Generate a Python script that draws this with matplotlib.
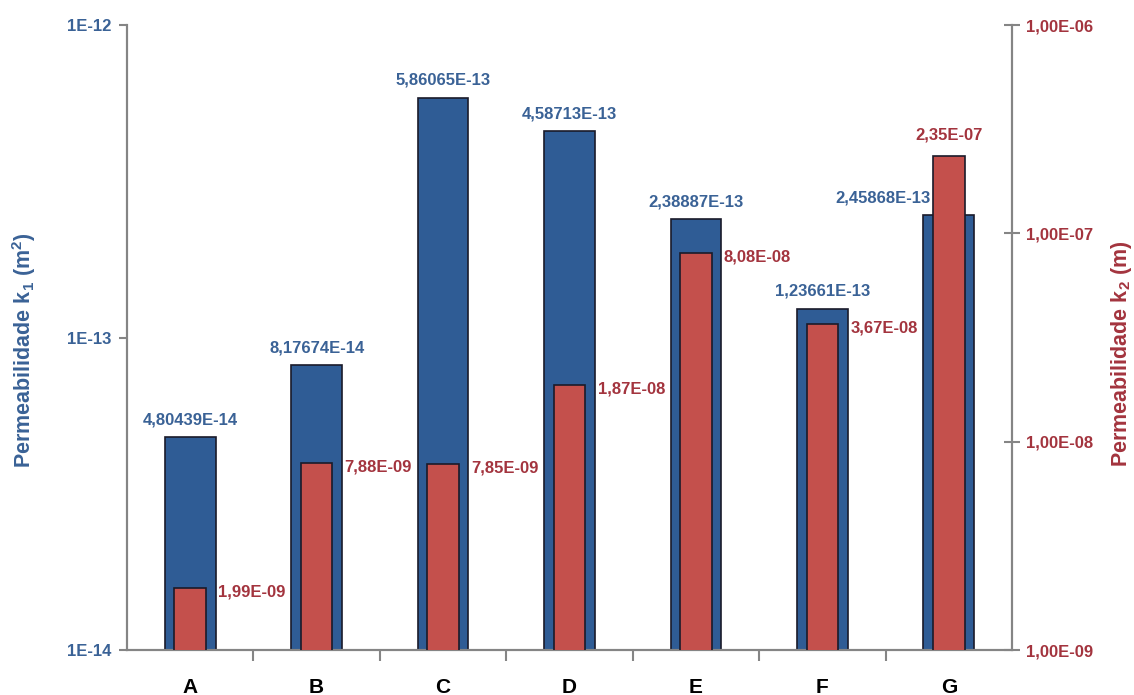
import matplotlib
matplotlib.use("Agg")
import matplotlib.pyplot as plt
import numpy as np

plt.rcParams['font.family'] = ['Liberation Sans', 'DejaVu Sans']
plt.rcParams['mathtext.fontset'] = 'custom'
plt.rcParams['mathtext.rm'] = 'Liberation Sans'
plt.rcParams['mathtext.bf'] = 'Liberation Sans:bold'

samples = ["A", "B", "C", "D", "E", "F", "G"]
k1_values = [4.80439e-14, 8.17674e-14, 5.86065e-13, 4.58713e-13, 2.38887e-13, 1.23661e-13, 2.45868e-13]
k1_labels = ["4,80439E-14", "8,17674E-14", "5,86065E-13", "4,58713E-13", "2,38887E-13", "1,23661E-13", "2,45868E-13"]
k2_values = [1.99e-09, 7.88e-09, 7.85e-09, 1.87e-08, 8.08e-08, 3.67e-08, 2.35e-07]
k2_labels = ["1,99E-09", "7,88E-09", "7,85E-09", "1,87E-08", "8,08E-08", "3,67E-08", "2,35E-07"]
k1_ticks = [1e-14, 1e-13, 1e-12]
k1_ticklabels = ["1E-14", "1E-13", "1E-12"]
k2_ticks = [1e-9, 1e-8, 1e-7, 1e-6]
k2_ticklabels = ["1,00E-09", "1,00E-08", "1,00E-07", "1,00E-06"]

blue = "#2F5C95"
red = "#C4504C"
blue_txt = "#3A6296"
red_txt = "#A3343E"
edge = "#1a1a2a"
axis_grey = "#858585"

fig = plt.figure(figsize=(11.34, 6.95), dpi=100)
ax1 = fig.add_axes([0.112, 0.0647, 0.7804, 0.8993])
ax2 = ax1.twinx()

x = np.arange(len(samples))
w1, w2 = 0.4, 0.25

ax1.set_yscale("log")
ax1.set_ylim(1e-14, 1e-12)
ax1.bar(x, k1_values, width=w1, color=blue, edgecolor=edge, linewidth=1.2, zorder=2)
ax1.set_xlim(-0.5, len(samples) - 0.5)

ax2.set_yscale("log")
ax2.set_ylim(1e-9, 1e-6)
ax2.bar(x, k2_values, width=w2, color=red, edgecolor=edge, linewidth=1.2, zorder=3)

lab_fs = 12
last = len(samples) - 1

# k1 labels above the blue bars (last one shifted left of the red bar)
for i, (v, lab) in enumerate(zip(k1_values, k1_labels)):
    if i == last:
        ax1.annotate(lab, (i - w2 / 2, v), xytext=(-2, 7), textcoords="offset points",
                     ha="right", va="bottom", color=blue_txt, fontsize=lab_fs, fontweight="bold")
    else:
        ax1.annotate(lab, (i, v), xytext=(0, 7), textcoords="offset points",
                     ha="center", va="bottom", color=blue_txt, fontsize=lab_fs, fontweight="bold")

# k2 labels beside the red bars (last one above)
for i, (v, lab) in enumerate(zip(k2_values, k2_labels)):
    if i == last:
        ax2.annotate(lab, (i, v), xytext=(0, 10), textcoords="offset points",
                     ha="center", va="bottom", color=red_txt, fontsize=lab_fs, fontweight="bold")
    else:
        ax2.annotate(lab, (i + w1 / 2, v), xytext=(2, -3), textcoords="offset points",
                     ha="left", va="center", color=red_txt, fontsize=lab_fs, fontweight="bold")

# axes styling
for ax in (ax1, ax2):
    ax.spines["top"].set_visible(False)
    for sp in ("left", "right", "bottom"):
        ax.spines[sp].set_color(axis_grey)
        ax.spines[sp].set_linewidth(1.5)

ax1.set_yticks(k1_ticks)
ax1.set_yticklabels(k1_ticklabels, color=blue_txt, fontsize=12, fontweight="bold")
ax1.yaxis.set_minor_locator(matplotlib.ticker.NullLocator())
ax1.tick_params(axis="y", direction="out", length=6, color=axis_grey, width=1.5, pad=5)

ax2.set_yticks(k2_ticks)
ax2.set_yticklabels(k2_ticklabels, color=red_txt, fontsize=12, fontweight="bold")
ax2.yaxis.set_minor_locator(matplotlib.ticker.NullLocator())
ax2.tick_params(axis="y", direction="inout", length=12, color=axis_grey, width=1.5, pad=4)

ax1.set_xticks(x)
ax1.set_xticklabels(samples, fontsize=15, fontweight="bold", color="black")
ax1.tick_params(axis="x", length=0, pad=20)
ax1.set_xticks(np.arange(0.5, len(samples) - 0.5, 1.0), minor=True)
ax1.tick_params(axis="x", which="minor", direction="out", length=8, color=axis_grey, width=1.5)

fig.text(24 / 1134, 1 - 350 / 695, "Permeabilidade k$_\\mathbf{1}$ (m$^\\mathbf{2}$)",
         color=blue_txt, fontsize=15.5, fontweight="bold", rotation=90, ha="center", va="center")
fig.text(1121 / 1134, 1 - 354 / 695, "Permeabilidade k$_\\mathbf{2}$ (m)",
         color=red_txt, fontsize=15.5, fontweight="bold", rotation=90, ha="center", va="center")

fig.savefig("out.png", dpi=100)
